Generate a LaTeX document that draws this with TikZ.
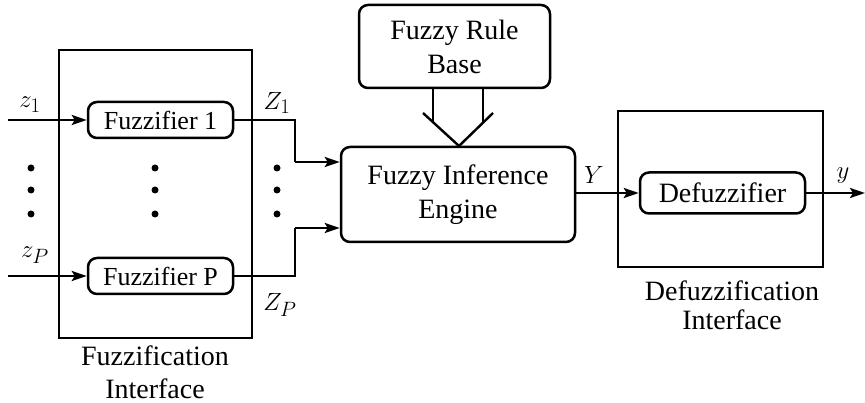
\documentclass[tikz,border=0pt]{standalone}
\usepackage{fontspec}
\setmainfont{Liberation Serif}
\usetikzlibrary{arrows.meta,calc}
\tikzset{
  rbox/.style={draw, line width=2.5pt, rounded corners=9pt, inner sep=0pt, align=center},
  frame/.style={draw, line width=1.5pt},
  conn/.style={line width=2.4pt, -{Stealth[length=15pt,width=10pt,inset=3pt]}},
  plain/.style={line width=2.4pt},
  lbl/.style={inner sep=0pt, align=center},
  mlbl/.style={inner sep=0pt, font=\fontsize{32}{34}\selectfont},
  dotc/.style={fill, circle, inner sep=0pt, minimum size=7pt},
}
\begin{document}
\begin{tikzpicture}[x=1pt,y=-1pt]
\useasboundingbox (0,0) rectangle (865,403);
% frames
\draw[frame] (59,50) rectangle (252,338);
\draw[frame] (618,111) rectangle (823,267);
% boxes
\node[rbox, minimum width=145pt, minimum height=36pt, font=\fontsize{26}{28}\selectfont] (fz1) at (160.5,120) {Fuzzifier 1};
\node[rbox, minimum width=145pt, minimum height=36pt, font=\fontsize{26}{28}\selectfont] (fzp) at (160.5,276) {Fuzzifier P};
\node[rbox, minimum width=234pt, minimum height=95pt, font=\fontsize{28}{34}\selectfont] (eng) at (458,194.5) {Fuzzy Inference\\Engine};
\node[rbox, minimum width=191pt, minimum height=83pt, font=\fontsize{28}{34}\selectfont] (rb) at (454.5,46.5) {Fuzzy Rule\\Base};
\node[rbox, minimum width=165pt, minimum height=41pt, font=\fontsize{28}{30}\selectfont] (dfz) at (722.5,193) {Defuzzifier};
% inputs
\coordinate (in1) at (8,120);
\coordinate (inp) at (8,276);
\draw[conn] (in1) -- (fz1.west);
\draw[conn] (inp) -- (fzp.west);
\node[mlbl] (lz1) at (30,105) {$z_1$};
\node[mlbl] (lzp) at (35,255) {$z_P$};
% outputs of fuzzifiers
\coordinate (b1) at (295,120);
\coordinate (b1d) at (295,162);
\coordinate (bp) at (295,276);
\coordinate (bpu) at (295,228);
\draw[plain] (fz1.east) -- (b1) -- (b1d);
\draw[conn] (b1d) -- (b1d -| eng.west);
\draw[plain] (fzp.east) -- (bp) -- (bpu);
\draw[conn] (bpu) -- (bpu -| eng.west);
\node[mlbl] (lZ1) at (277,103) {$Z_1$};
\node[mlbl] (lZp) at (280,305) {$Z_P$};
% dots
\foreach \x/\n in {31/a,155/b,277/c}{
  \node[dotc] (d\n1) at (\x,168) {};
  \node[dotc] (d\n2) at (\x,190) {};
  \node[dotc] (d\n3) at (\x,214) {};
}
% fork arrow from rule base
\coordinate (s1) at (433,88);
\coordinate (s1e) at (433,122);
\coordinate (s2) at (483,88);
\coordinate (s2e) at (483,122.5);
\coordinate (vl) at (423,113);
\coordinate (vt) at (459,146);
\coordinate (vr) at (493,113);
\draw[plain] (s1) -- (s1e);
\draw[plain] (s2) -- (s2e);
\draw[plain, line join=miter] (vl) -- (vt) -- (vr);
% engine to defuzzifier
\draw[conn] (eng.east |- dfz.west) -- (dfz.west);
\node[mlbl] (lY) at (594,175) {$Y$};
\coordinate (out) at (865,193);
\draw[conn] (dfz.east) -- (out);
\node[mlbl] (ly) at (843,176) {$y$};
% interface labels
\node[lbl, font=\fontsize{28}{33}\selectfont] (fi) at (155,372) {Fuzzification\\Interface};
\node[lbl, font=\fontsize{28}{29}\selectfont] (di) at (732,305) {Defuzzification\\Interface};
\end{tikzpicture}
\end{document}
